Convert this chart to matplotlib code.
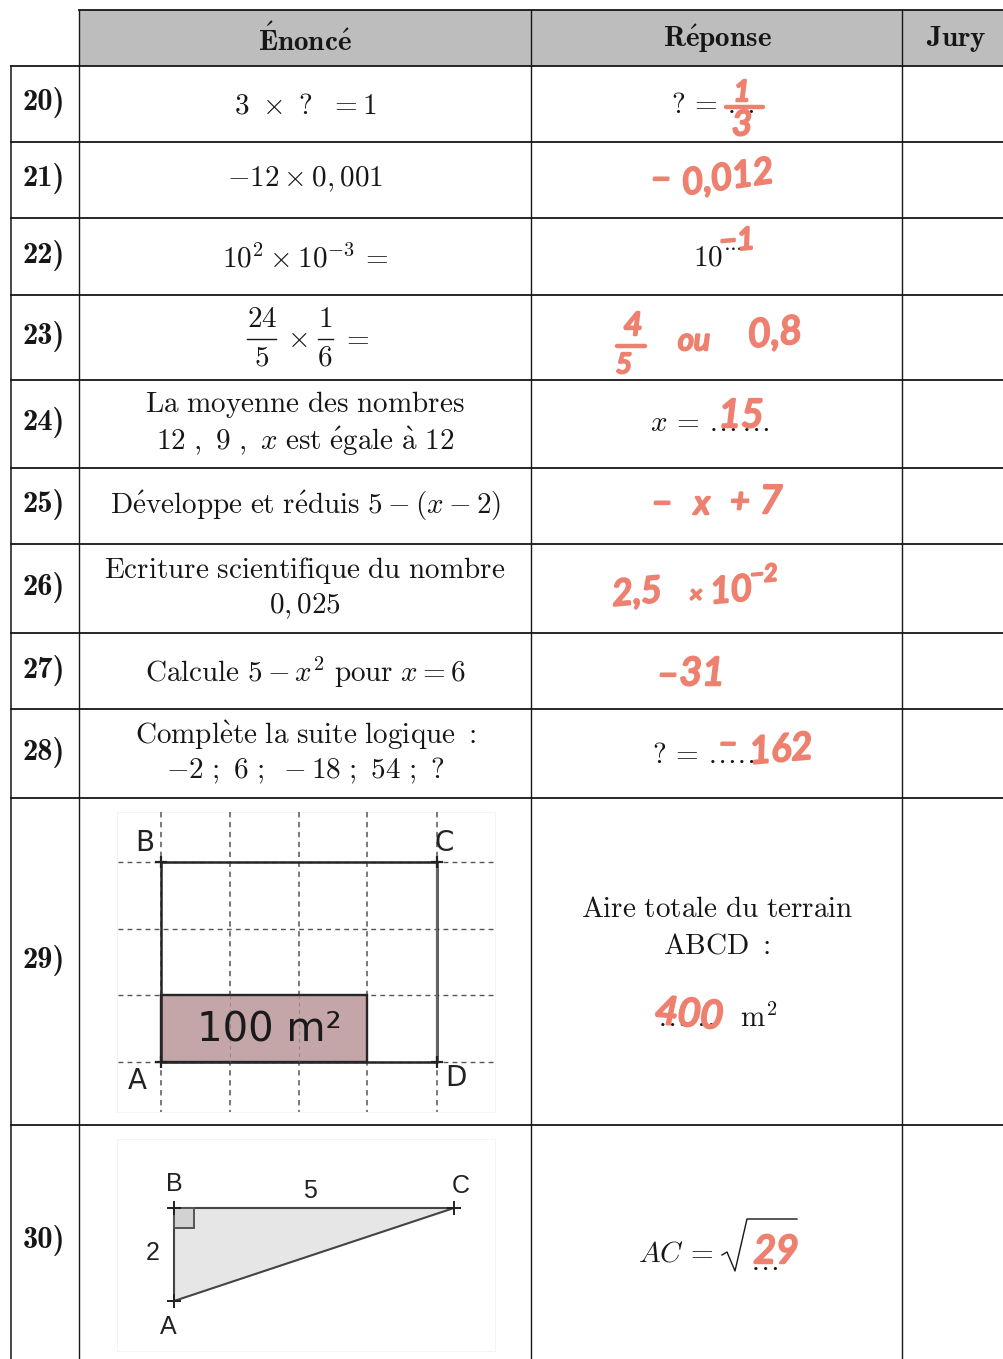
import matplotlib
matplotlib.use("Agg")
import matplotlib.pyplot as plt
import matplotlib.patheffects as pe
from matplotlib.patches import Rectangle, Polygon

plt.rcParams['mathtext.fontset'] = 'cm'
plt.rcParams['font.family'] = ['Lato', 'DejaVu Sans']

# ---------- content ----------
headers = [r"$\mathbf{\'Enonc\'e}$", r"$\mathbf{R\'eponse}$", r"$\mathbf{Jury}$"]
row_labels = ["%d)" % n for n in range(20, 31)]
statements = [
    [r"$3\ \times\ ?\ \ =1$"],
    [r"$-12\times 0,001$"],
    [r"$10^{2}\times 10^{-3}\,=$"],
    [],
    [r"$\mathrm{La\ moyenne\ des\ nombres}$", r"$12\ ,\ 9\ ,\ x\ \mathrm{est\ \'egale\ \`a}\ 12$"],
    [r"$\mathrm{D\'eveloppe\ et\ r\'eduis}\ 5-(x-2)$"],
    [r"$\mathrm{Ecriture\ scientifique\ du\ nombre}$", r"$0,025$"],
    [r"$\mathrm{Calcule}\ 5-x^{2}\ \mathrm{pour}\ x=6$"],
    [r"$\mathrm{Compl\`ete\ la\ suite\ logique}\ :$", r"$-2\ ;\ 6\ ;\ -18\ ;\ 54\ ;\ ?$"],
]
fraction_parts = [("$24$", 262, 319), ("$5$", 262, 358), (r"$\times$", 297, 339),
                  ("$1$", 325, 319), ("$6$", 325, 358), ("$=$", 355, 338)]
answers_left = [
    (r"$?\,=\,\ldots$", 671, 105), (r"$10^{\cdots}$", 693, 257),
    (r"$x\,=\,\ldots\,\ldots$", 650, 423), (r"$?\,=\,\ldots\ldots$", 652, 755),
    (r"$\ldots\ldots\ \ \ \mathrm{m}^{2}$", 657, 1017), (r"$AC\,=$", 638, 1254),
    (r"$\ldots$", 750, 1262),
]
answers_center = [
    (r"$\mathrm{Aire\ totale\ du\ terrain}$", 717, 909), (r"$\mathrm{ABCD}\ :$", 717, 945),
]
handwritten = [
    ("1", 742, 93, 21, 0), ("3", 742, 125, 25, 0), ("−", 661, 181, 24, 0), ("0,012", 728, 178, 26, 8),
    ("−1", 737, 241, 22, 5),
    ("4", 633, 326, 23, 0), ("5", 624, 365, 20, 0), ("ou", 694, 341, 22, 0), ("0,8", 775, 334, 28, 5),
    ("15", 741, 416, 28, 0), ("−", 662, 505, 24, 0), ("x", 702, 505, 24, 0), ("+", 740, 503, 24, 0), ("7", 771, 502, 28, 0),
    ("2,5", 637, 593, 26, 5), ("×", 696, 596, 16, 0),
    ("10", 731, 591, 26, 5), ("−2", 764, 575, 17, 5), ("−", 668, 677, 24, 0), ("31", 702, 674, 28, 0),
    ("−", 728, 745, 22, 0), ("162", 781, 750, 27, 5), ("400", 689, 1015, 28, -5), ("29", 776, 1252, 28, 0),
]
grid_labels = [("B", 145, 842), ("C", 444, 842), ("A", 137, 1080), ("D", 456, 1077)]
tri_labels = [("B", 174, 1184), ("C", 461, 1186), ("A", 168, 1327), ("5", 310, 1191), ("2", 153, 1253)]

# ---------- layout ----------
col_x = [11, 79, 531, 902, 1004]
row_y = [66, 142, 218, 295, 380, 468, 544, 633, 709, 798, 1125, 1359]
grid_x = [161, 230, 299, 367, 437]
grid_y = [862, 929, 995, 1062]
INK = "#161616"
RED = "#ee8070"

fig = plt.figure(figsize=(10.04, 13.59), dpi=100)
ax = fig.add_axes([0, 0, 1, 1])
ax.set_xlim(0, 1004)
ax.set_ylim(1359, 0)
ax.axis("off")

# header and rules
ax.add_patch(Rectangle((col_x[1], 10), col_x[4] - col_x[1], 56, fc="#bdbdbd", ec="none"))
ax.plot([col_x[1], col_x[4]], [10, 10], color=INK, lw=1.3)
for y in row_y[:-1]:
    ax.plot([col_x[0], col_x[4]], [y, y], color=INK, lw=1.3)
ax.plot([col_x[0]] * 2, [66, 1359], color=INK, lw=1.1)
for x in col_x[1:4]:
    ax.plot([x, x], [10, 1359], color=INK, lw=1.0)

FS = 21
for txt, x in zip(headers, [305, 717, 956]):
    ax.text(x, 39, txt, ha="center", va="center", fontsize=FS, color=INK)
for i, txt in enumerate(row_labels):
    ax.text(44, (row_y[i] + row_y[i + 1]) / 2 - 1, txt, ha="center", va="center", fontsize=FS + 1,
            color=INK, family="cmb10")

line_y = [[105], [179], [258], [], [405, 441], [506], [570, 606], [672], [735, 771]]
for lines, ys in zip(statements, line_y):
    for txt, y in zip(lines, ys):
        ax.text(305, y, txt, ha="center", va="center", fontsize=FS, color=INK)
for txt, x, y in fraction_parts:
    ax.text(x, y, txt, ha="center", va="center", fontsize=FS, color=INK)
ax.plot([247, 276], [339, 339], color=INK, lw=1.0)
ax.plot([318, 333], [339, 339], color=INK, lw=1.0)
for txt, x, y in answers_left:
    ax.text(x, y, txt, ha="left", va="center", fontsize=FS, color=INK)
for txt, x, y in answers_center:
    ax.text(x, y, txt, ha="center", va="center", fontsize=FS, color=INK)

# square-root sign
ax.plot([722, 727, 735, 747, 797], [1255, 1252, 1271, 1219, 1219], color=INK, lw=1.0)

# figure 29
ax.add_patch(Rectangle((117, 812), 378, 300, fc="none", ec="#f2f2f2", lw=0.6))
for x in grid_x:
    ax.plot([x, x], [812, 1112], color="#555555", lw=1.1, ls=(0, (3.5, 3)))
for y in grid_y:
    ax.plot([118, 495], [y, y], color="#555555", lw=1.0, ls=(0, (3.5, 3)))
ax.add_patch(Rectangle((grid_x[0], grid_y[2]), grid_x[3] - grid_x[0], grid_y[3] - grid_y[2],
                       fc="#c4a6a8", ec="#262626", lw=1.7, zorder=2))
ax.plot([grid_x[0], grid_x[4], grid_x[4], grid_x[0], grid_x[0]],
        [grid_y[0], grid_y[0], grid_y[3], grid_y[3], grid_y[0]], color="#262626", lw=1.8, zorder=3)
ax.plot([grid_x[4]] * 2, [grid_y[0], grid_y[3]], color="#666666", lw=1.6, zorder=3)
for x in (grid_x[0], grid_x[4]):
    for y in (grid_y[0], grid_y[3]):
        ax.plot([x], [y], marker="+", ms=9, mew=1.6, color="#222222", zorder=4)
for x in grid_x[1:3]:
    ax.plot([x, x], [grid_y[2], grid_y[3]], color="#777777", lw=0.8, ls=(0, (3.5, 3)), zorder=3, alpha=.6)
ax.text(269, 1030, "100 m²", ha="center", va="center", fontsize=29, color="#1a1a1a",
        family="DejaVu Sans", zorder=5)
for t, x, y in grid_labels:
    ax.text(x, y + 1, t, ha="center", va="center", fontsize=20, color="#222222", family="DejaVu Sans", zorder=5)

# figure 30
A, B, C = (174, 1301), (174, 1208), (454, 1208)
ax.add_patch(Rectangle((117, 1139), 378, 212, fc="none", ec="#f2f2f2", lw=0.6))
ax.add_patch(Polygon([A, B, C], closed=True, fc="#e6e6e6", ec="#444444", lw=1.5))
ax.add_patch(Rectangle((174, 1208), 20, 20, fc="#d2d2d2", ec="#555555", lw=1.4))
for p in (A, B, C):
    ax.plot([p[0]], [p[1]], marker="+", ms=10, mew=1.4, color="#222222")
for t, x, y in tri_labels:
    ax.text(x, y, t, ha="center", va="center", fontsize=18, color="#222222", family="Liberation Sans")

# handwriting
stroke = [pe.withStroke(linewidth=1.8, foreground=RED)]
for t, x, y, s, rot in handwritten:
    ax.text(x, y, t, ha="center", va="center", fontsize=s, color=RED, weight="normal",
            style="italic", rotation=rot, path_effects=stroke, zorder=6)
ax.plot([726, 763], [107, 107], color=RED, lw=3.2, solid_capstyle="round", zorder=6)
ax.plot([617, 645], [346, 346], color=RED, lw=3.2, solid_capstyle="round", zorder=6)

fig.savefig("out.png", dpi=100)
